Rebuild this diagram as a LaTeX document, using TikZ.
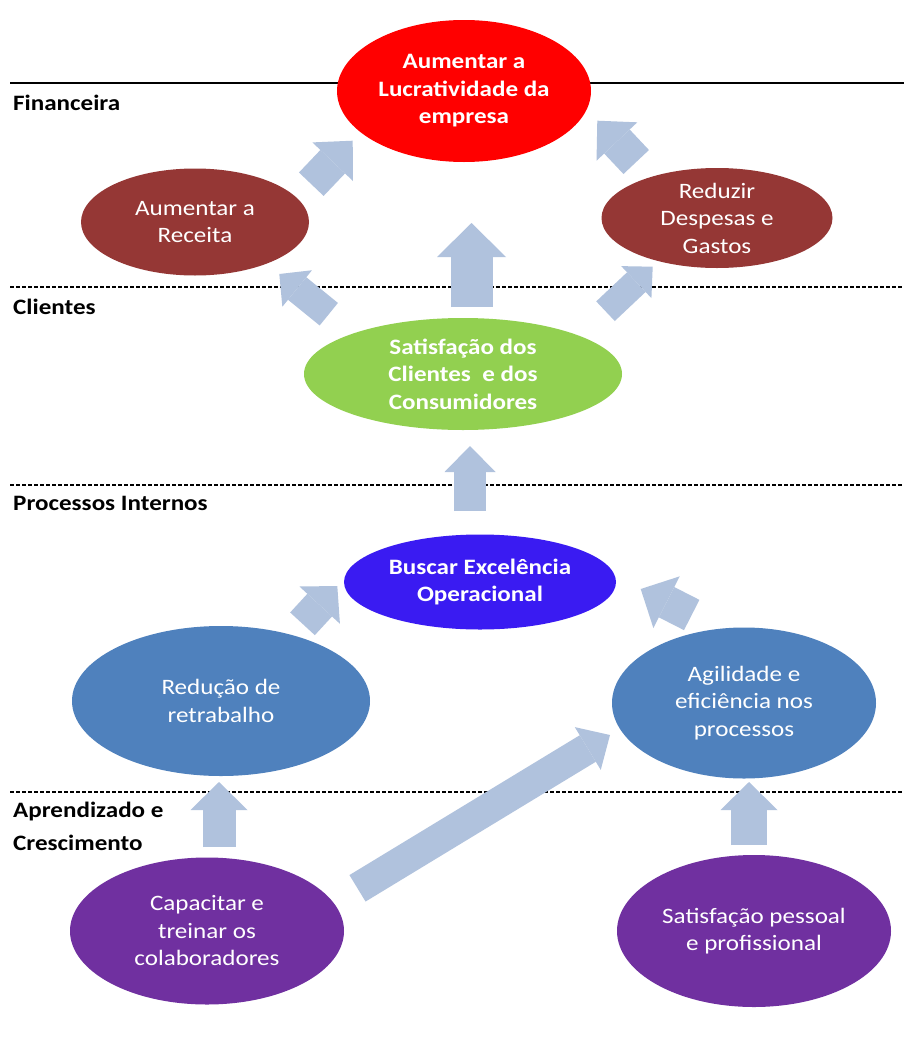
\documentclass[tikz,border=0pt]{standalone}
\usepackage{fontspec}
\setmainfont{Carlito}[FakeStretch=1.14]
\usetikzlibrary{shapes.geometric,arrows.meta}

\definecolor{lucro}{HTML}{FF0000}
\definecolor{finan}{HTML}{953735}
\definecolor{clien}{HTML}{92D050}
\definecolor{excel}{HTML}{3A1BF2}
\definecolor{proc}{HTML}{4F81BD}
\definecolor{apren}{HTML}{7030A0}
\definecolor{seta}{HTML}{B0C2DD}

\tikzset{
  txt/.style={font=\fontsize{22}{27.5}\selectfont},
  blob/.style={ellipse, inner sep=0pt, align=center, text=white, txt},
  strong/.style={blob, font=\fontsize{22}{27.5}\selectfont\bfseries},
  level/.style={anchor=west, inner sep=0pt, align=left,
    font=\fontsize{22}{33}\selectfont\bfseries},
  divider/.style={line width=1.3pt, dash pattern=on 4pt off 2pt},
  fat/.style n args={3}{draw=seta, line width=#1pt,
    -{Triangle[width=#2pt, length=#3pt, line width=0pt]}},
}

\begin{document}
\begin{tikzpicture}[x=1pt, y=-1pt]
  \fill[white] (0,0) rectangle (904,1052);
  \useasboundingbox (0,0) rectangle (904,1052);

  % perspective boundaries
  \draw[line width=2.6pt] (10,83) -- (904,83);
  \draw[divider] (10,287) -- (904,287);
  \draw[divider] (10,485) -- (904,485);
  \draw[divider] (10,792) -- (904,792);

  % perspective names
  \node[level] (lf) at (13,103) {Financeira};
  \node[level] (lc) at (13,307) {Clientes};
  \node[level] (lp) at (13,503) {Processos Internos};
  \node[level] (la) at (13,826) {Aprendizado e\\Crescimento};

  % objectives
  \node[strong, fill=lucro, minimum width=254pt, minimum height=142pt] (lucro) at (464,91)
    {Aumentar a\\Lucratividade da\\empresa};
  \node[blob, fill=finan, minimum width=228pt, minimum height=107pt] (rec) at (195,222)
    {Aumentar a\\Receita};
  \node[blob, fill=finan, minimum width=231pt, minimum height=100pt] (desp) at (717,218)
    {Reduzir\\Despesas e\\Gastos};
  \node[strong, fill=clien, minimum width=318pt, minimum height=112pt] (cli) at (463,374)
    {Satisfação dos\\Clientes\ \ e dos\\Consumidores};
  \node[strong, fill=excel, minimum width=272pt, minimum height=95pt] (exc) at (480,582)
    {Buscar Excelência\\Operacional};
  \node[blob, fill=proc, minimum width=298pt, minimum height=150pt] (retr) at (221,701)
    {Redução de\\retrabalho};
  \node[blob, fill=proc, minimum width=264pt, minimum height=151pt] (agil) at (744,703)
    {Agilidade e\\eficiência nos\\processos};
  \node[blob, fill=apren, minimum width=274pt, minimum height=147pt] (cap) at (207,931)
    {Capacitar e\\treinar os\\colaboradores};
  \node[blob, fill=apren, minimum width=274pt, minimum height=152pt] (pess) at (754,931)
    {Satisfação pessoal\\e profissional};

  % arrow ends
  \coordinate (cli-lucro-a) at (471.5,307);   \coordinate (cli-lucro-b) at (471.5,223);
  \coordinate (exc-cli-a)   at (470,511);     \coordinate (exc-cli-b)   at (470,446);
  \coordinate (cap-retr-a)  at (219,847);     \coordinate (cap-retr-b)  at (219,782);
  \coordinate (pess-agil-a) at (749,845);     \coordinate (pess-agil-b) at (749,782);
  \coordinate (cap-agil-a)  at (357.5,888.3); \coordinate (cap-agil-b)  at (610,735);
  \coordinate (rec-lucro-a) at (311.3,184.2); \coordinate (rec-lucro-b) at (352.7,140.7);
  \coordinate (desp-lucro-a) at (636.2,162);  \coordinate (desp-lucro-b) at (597.3,120.7);
  \coordinate (cli-rec-a)   at (328.8,314.2); \coordinate (cli-rec-b)   at (279.3,274);
  \coordinate (cli-desp-a)  at (605.5,311.2); \coordinate (cli-desp-b)  at (652.7,266.7);
  \coordinate (retr-exc-a)  at (302.5,623.8); \coordinate (retr-exc-b)  at (337.3,586);
  \coordinate (agil-exc-a)  at (691.7,615);   \coordinate (agil-exc-b)  at (640.7,589);

  % cause-and-effect arrows
  \draw[fat={42}{69}{34}] (cli-lucro-a) -- (cli-lucro-b);
  \draw[fat={32}{51}{26}] (exc-cli-a) -- (exc-cli-b);
  \draw[fat={33}{57}{28}] (cap-retr-a) -- (cap-retr-b);
  \draw[fat={36}{57}{28}] (pess-agil-a) -- (pess-agil-b);
  \draw[fat={31}{50}{26}] (cap-agil-a) -- (cap-agil-b);
  \draw[fat={34}{56}{29}] (rec-lucro-a) -- (rec-lucro-b);
  \draw[fat={35}{56}{28.6}] (desp-lucro-a) -- (desp-lucro-b);
  \draw[fat={29}{47}{23}] (cli-rec-a) -- (cli-rec-b);
  \draw[fat={27}{44}{22.5}] (cli-desp-a) -- (cli-desp-b);
  \draw[fat={33.5}{55}{26}] (retr-exc-a) -- (retr-exc-b);
  \draw[fat={34}{58}{29}] (agil-exc-a) -- (agil-exc-b);
\end{tikzpicture}
\end{document}
